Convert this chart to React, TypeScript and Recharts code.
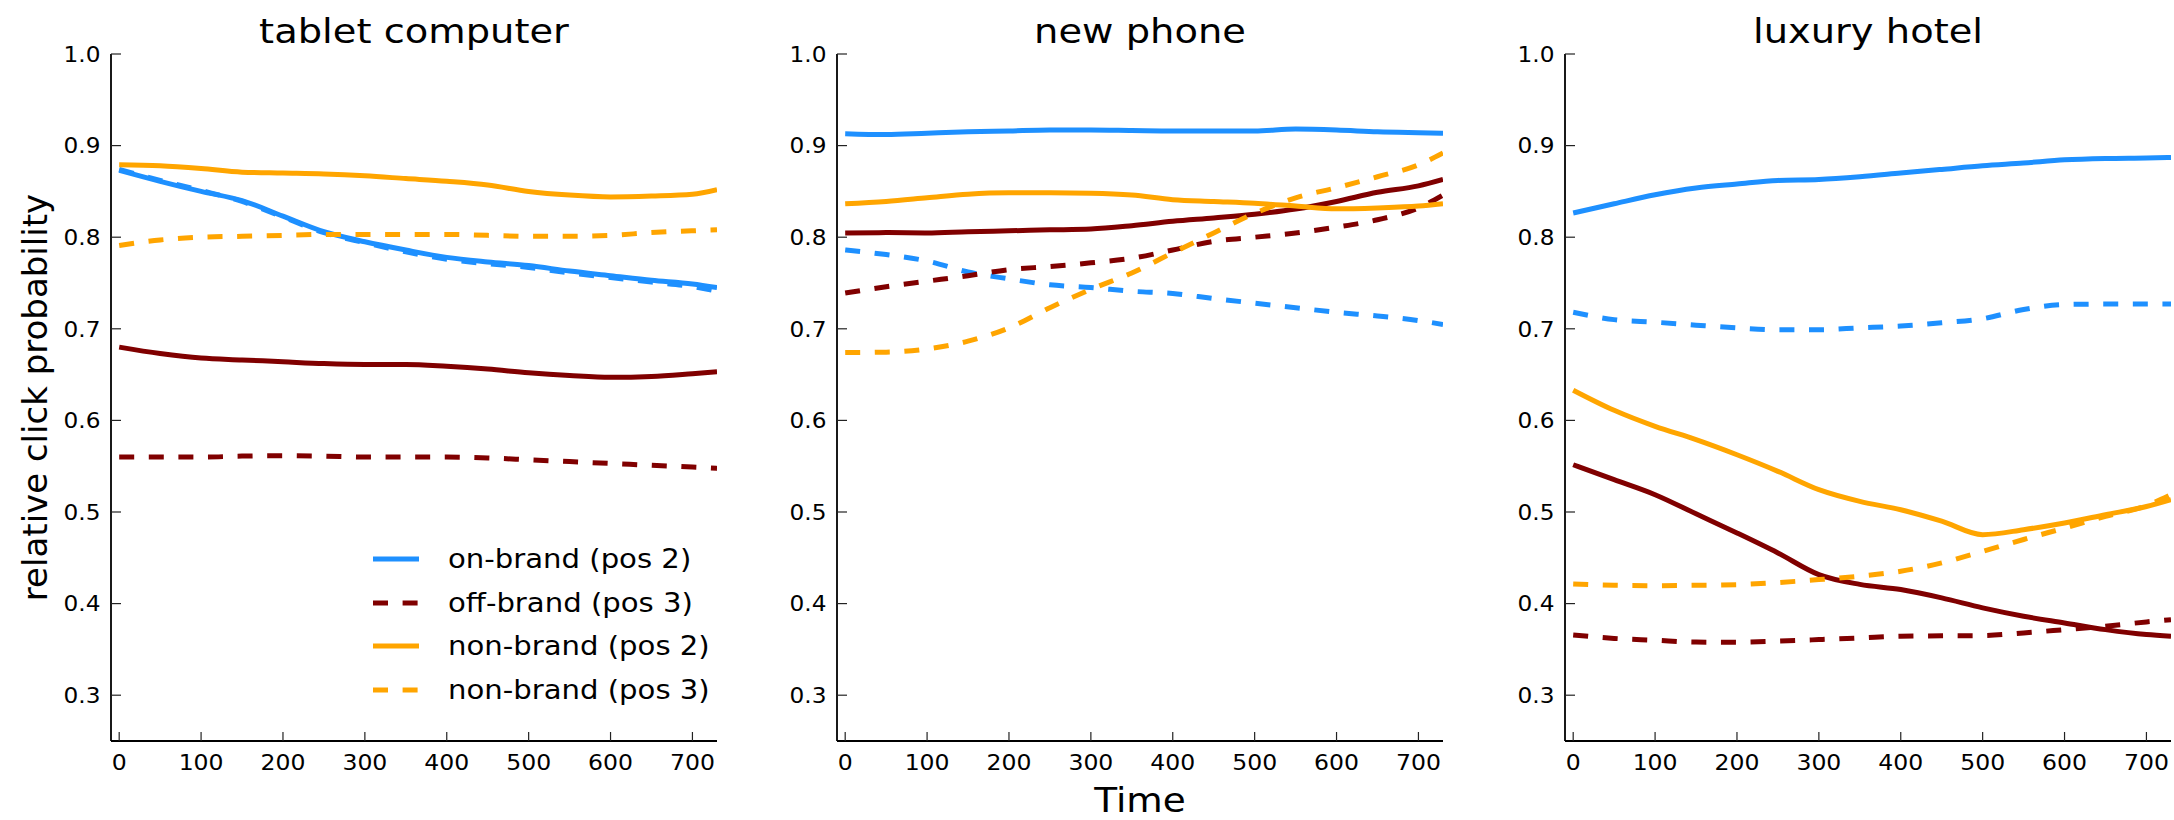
import React from 'react';
import { LineChart, Line, XAxis, YAxis, Legend } from 'recharts';

// ---------- data ----------
const times = [0, 50, 100, 150, 200, 250, 300, 350, 400, 450, 500, 550, 600, 650, 700, 730];
const xTicks = [0, 100, 200, 300, 400, 500, 600, 700];
const yTicks = [0.3, 0.4, 0.5, 0.6, 0.7, 0.8, 0.9, 1.0];
const panelTitles = ['tablet computer', 'new phone', 'luxury hotel'];

// tablet computer
const tabletOnBrand2 = [0.873, 0.861, 0.850, 0.840, 0.823, 0.806, 0.795, 0.786, 0.778, 0.773, 0.769, 0.763, 0.758, 0.753, 0.749, 0.745];
const tabletOnBrand3 = [0.874, 0.862, 0.851, 0.839, 0.822, 0.805, 0.794, 0.784, 0.776, 0.771, 0.767, 0.761, 0.756, 0.751, 0.746, 0.741];
const tabletOffBrand2 = [0.680, 0.673, 0.668, 0.666, 0.664, 0.662, 0.661, 0.661, 0.659, 0.656, 0.652, 0.649, 0.647, 0.648, 0.651, 0.653];
const tabletOffBrand3 = [0.560, 0.560, 0.560, 0.561, 0.5615, 0.561, 0.560, 0.560, 0.560, 0.559, 0.557, 0.555, 0.553, 0.551, 0.549, 0.5476];
const tabletNonBrand2 = [0.879, 0.878, 0.875, 0.871, 0.870, 0.869, 0.867, 0.864, 0.861, 0.857, 0.850, 0.846, 0.844, 0.845, 0.847, 0.852];
const tabletNonBrand3 = [0.791, 0.797, 0.800, 0.801, 0.802, 0.803, 0.803, 0.803, 0.803, 0.802, 0.801, 0.801, 0.802, 0.805, 0.807, 0.808];

// new phone
const phoneOnBrand2 = [0.913, 0.912, 0.9135, 0.915, 0.916, 0.917, 0.917, 0.9165, 0.916, 0.916, 0.916, 0.918, 0.917, 0.915, 0.914, 0.9135];
const phoneOnBrand3 = [0.786, 0.781, 0.774, 0.762, 0.7545, 0.748, 0.745, 0.741, 0.7385, 0.733, 0.728, 0.723, 0.718, 0.714, 0.709, 0.7047];
const phoneOffBrand2 = [0.8046, 0.805, 0.8046, 0.806, 0.807, 0.808, 0.809, 0.8126, 0.8173, 0.821, 0.825, 0.8307, 0.839, 0.849, 0.856, 0.863];
const phoneOffBrand3 = [0.739, 0.746, 0.752, 0.758, 0.7646, 0.768, 0.772, 0.777, 0.786, 0.7955, 0.800, 0.8046, 0.811, 0.819, 0.832, 0.846];
const phoneNonBrand2 = [0.8365, 0.839, 0.843, 0.847, 0.8485, 0.8485, 0.848, 0.846, 0.841, 0.839, 0.837, 0.834, 0.831, 0.832, 0.834, 0.8365];
const phoneNonBrand3 = [0.674, 0.6745, 0.678, 0.6865, 0.701, 0.723, 0.743, 0.761, 0.783, 0.8046, 0.826, 0.843, 0.854, 0.866, 0.879, 0.892];

// luxury hotel
const hotelOnBrand2 = [0.8264, 0.8365, 0.8463, 0.8536, 0.858, 0.862, 0.863, 0.866, 0.870, 0.874, 0.878, 0.881, 0.8845, 0.886, 0.8865, 0.887];
const hotelOnBrand3 = [0.718, 0.710, 0.7072, 0.704, 0.701, 0.699, 0.699, 0.701, 0.703, 0.7065, 0.711, 0.721, 0.7265, 0.727, 0.727, 0.727];
const hotelOffBrand2 = [0.5516, 0.5353, 0.5189, 0.498, 0.4771, 0.4553, 0.4316, 0.421, 0.4153, 0.4062, 0.3953, 0.3862, 0.3789, 0.3716, 0.3662, 0.3644];
const hotelOffBrand3 = [0.3658, 0.362, 0.360, 0.358, 0.3578, 0.359, 0.3607, 0.3625, 0.3644, 0.3648, 0.3651, 0.368, 0.3716, 0.3753, 0.380, 0.3825];
const hotelNonBrand2 = [0.633, 0.611, 0.5935, 0.579, 0.5625, 0.5444, 0.5244, 0.5116, 0.5025, 0.490, 0.4753, 0.4807, 0.488, 0.497, 0.506, 0.5135];
const hotelNonBrand3 = [0.4215, 0.420, 0.4196, 0.420, 0.4207, 0.423, 0.4262, 0.430, 0.4353, 0.4444, 0.457, 0.470, 0.4825, 0.4953, 0.507, 0.519];

const legendLabels = ['on-brand (pos 2)', 'off-brand (pos 3)', 'non-brand (pos 2)', 'non-brand (pos 3)'];

// ---------- styling ----------
const BLUE = '#1E90FF';
const MAROON = '#800000';
const ORANGE = '#FFA500';
const DASH = '15 14.6';
const LW = 5;
const FONT = '"DejaVu Sans", sans-serif';

const seriesDefs = [
  { key: 'onBrand2', color: BLUE, dash: undefined },
  { key: 'onBrand3', color: BLUE, dash: DASH },
  { key: 'offBrand2', color: MAROON, dash: undefined },
  { key: 'offBrand3', color: MAROON, dash: DASH },
  { key: 'nonBrand2', color: ORANGE, dash: undefined },
  { key: 'nonBrand3', color: ORANGE, dash: DASH },
];
const legendColors = [BLUE, MAROON, ORANGE, ORANGE];
const legendDashes = [undefined, DASH, undefined, DASH];

const buildData = (a: number[], b: number[], c: number[], d: number[], e: number[], f: number[]) =>
  times.map((t, i) => ({ t, onBrand2: a[i], onBrand3: b[i], offBrand2: c[i], offBrand3: d[i], nonBrand2: e[i], nonBrand3: f[i] }));

const panels = [
  buildData(tabletOnBrand2, tabletOnBrand3, tabletOffBrand2, tabletOffBrand3, tabletNonBrand2, tabletNonBrand3),
  buildData(phoneOnBrand2, phoneOnBrand3, phoneOffBrand2, phoneOffBrand3, phoneNonBrand2, phoneNonBrand3),
  buildData(hotelOnBrand2, hotelOnBrand3, hotelOffBrand2, hotelOffBrand3, hotelNonBrand2, hotelNonBrand3),
];

// layout
const CW = 710;
const CH = 820;
const MARGIN = { top: 54, right: 4, bottom: 0, left: 40 };
const YAXIS_W = 60;
const XAXIS_H = 79;
const panelLefts = [11, 737, 1465];
const PLOT_W = CW - MARGIN.left - YAXIS_W - MARGIN.right;

const YTick = (props: any) => {
  const { x, y, payload } = props;
  return (
    <g>
      <line x1={x} y1={y} x2={x + 10} y2={y} stroke="#222" strokeWidth={1.2} />
      <text transform={`translate(${x - 10.5},${y}) scale(1.08,1)`} textAnchor="end" dy="0.36em" fontSize={21.5} fontFamily={FONT} fill="#000">
        {Number(payload.value).toFixed(1)}
      </text>
    </g>
  );
};

const XTick = (props: any) => {
  const { x, y, payload } = props;
  return (
    <g>
      <line x1={x} y1={y} x2={x} y2={y - 9} stroke="#222" strokeWidth={1.2} />
      <text transform={`translate(${x},${y + 29}) scale(1.07,1)`} textAnchor="middle" fontSize={22} fontFamily={FONT} fill="#000">
        {payload.value}
      </text>
    </g>
  );
};

const LegendBox = () => (
  <div style={{ fontFamily: FONT }}>
    {legendLabels.map((lab, i) => (
      <div key={lab} style={{ display: 'flex', alignItems: 'center', height: 43.7 }}>
        <svg width={46} height={10} style={{ display: 'block' }}>
          <line x1={0} y1={5} x2={46} y2={5} stroke={legendColors[i]} strokeWidth={LW} strokeDasharray={legendDashes[i]} />
        </svg>
        <span style={{ marginLeft: 29, fontSize: 26, lineHeight: 1, whiteSpace: 'nowrap', display: 'inline-block', transform: 'scaleX(1.12)', transformOrigin: 'left center', color: '#000' }}>
          {lab}
        </span>
      </div>
    ))}
  </div>
);

export default function App() {
  return (
    <div style={{ position: 'absolute', left: 0, top: 0, width: 2174, height: 820, background: '#fff', overflow: 'hidden' }}>
      {panels.map((data, pi) => (
        <div key={pi} style={{ position: 'absolute', left: panelLefts[pi], top: 0 }}>
          <LineChart width={CW} height={CH} data={data} margin={MARGIN}>
            <XAxis
              dataKey="t"
              type="number"
              domain={[-10, 730]}
              ticks={xTicks}
              interval={0}
              allowDataOverflow
              height={XAXIS_H}
              tickSize={0}
              tickMargin={0}
              tickLine={false}
              axisLine={{ stroke: '#000', strokeWidth: 2 }}
              tick={XTick}
            />
            <YAxis
              type="number"
              domain={[0.25, 1.0]}
              ticks={yTicks}
              interval={0}
              allowDataOverflow
              width={YAXIS_W}
              tickSize={0}
              tickMargin={0}
              tickLine={false}
              axisLine={{ stroke: '#000', strokeWidth: 1.8 }}
              tick={YTick}
            />
            {seriesDefs.map((s) => (
              <Line
                key={s.key}
                dataKey={s.key}
                type="monotone"
                stroke={s.color}
                strokeWidth={LW}
                strokeDasharray={s.dash}
                dot={false}
                activeDot={false}
                isAnimationActive={false}
              />
            ))}
            {pi === 0 && (
              <Legend
                layout="horizontal"
                align="center"
                verticalAlign="middle"
                content={LegendBox}
                wrapperStyle={{ position: 'absolute', left: 362, top: 537, width: 340 }}
              />
            )}
          </LineChart>
        </div>
      ))}
      <svg width={2174} height={820} style={{ position: 'absolute', left: 0, top: 0, pointerEvents: 'none' }}>
        {panelTitles.map((title, i) => {
          const cx = panelLefts[i] + MARGIN.left + YAXIS_W + PLOT_W / 2;
          return (
            <text key={title} transform={`translate(${cx},43) scale(1.13,1)`} textAnchor="middle" fontSize={34} fontFamily={FONT} fill="#000">
              {title}
            </text>
          );
        })}
        <text transform={`translate(${panelLefts[1] + MARGIN.left + YAXIS_W + PLOT_W / 2},812) scale(1.1,1)`} textAnchor="middle" fontSize={34} fontFamily={FONT} fill="#000">
          Time
        </text>
        <text transform="translate(47,397.5) rotate(-90)" textAnchor="middle" fontSize={34} fontFamily={FONT} fill="#000">
          relative click probability
        </text>
      </svg>
    </div>
  );
}
